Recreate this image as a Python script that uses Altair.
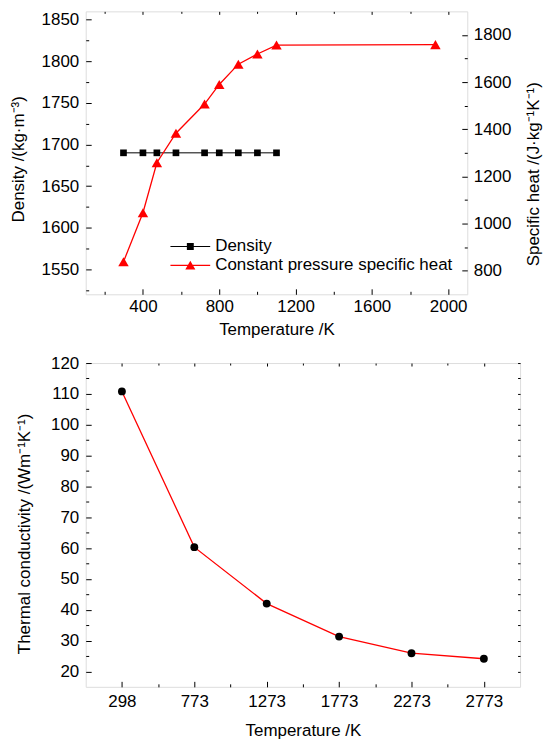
import json
import altair as alt
import pandas as pd

FONT = "Liberation Sans"

# ---------------- data ----------------
temp_density = [298, 400, 473, 573, 723, 800, 900, 1000, 1100]
density_values = [1690, 1690, 1690, 1690, 1690, 1690, 1690, 1690, 1690]
temp_cp = [298, 400, 473, 573, 723, 800, 900, 1000, 1100, 1933]
cp_values = [838, 1046, 1258, 1383, 1507, 1590, 1676, 1719, 1757, 1759]
series_names = ["Density", "Constant pressure specific heat"]

tc_temps = ["298", "773", "1273", "1773", "2273", "2773"]
tc_values = [110.8, 60.3, 42.0, 31.3, 25.9, 24.1]

# ---------------- tables ----------------
df_d = pd.DataFrame({"temp": temp_density, "density": density_values})
df_c = pd.DataFrame({"temp": temp_cp, "cp": cp_values})
df_leg = pd.DataFrame({"series": series_names})
df_tc = pd.DataFrame({"idx": list(range(len(tc_temps))), "k": tc_values})

W1, H1 = 383, 284
W2, H2 = 436, 325
FS = 17
MAJ, MIN = "-5.5", "-3"      # inward ticks (negative length)
EMAJ, EMIN = "-3", "-2"      # short ticks on mirrored edges


def tick_axis(orient, values, size):
    return alt.Axis(
        orient=orient, values=values, labels=False, domain=False,
        grid=False, ticks=True, tickColor="black", tickWidth=1,
        tickSize=alt.ExprRef(expr=size), title=None,
    )


def label_axis(orient, values, title, pad, tpad, **kw):
    return alt.Axis(
        orient=orient, values=values, ticks=False, domain=False, grid=False,
        labelFont=FONT, labelFontSize=FS, labelColor="black", labelPadding=pad,
        title=title, titleFont=FONT, titleFontSize=FS, titleFontWeight="normal",
        titleColor="black", titlePadding=tpad, **kw,
    )


# ---------------- top chart ----------------
x1 = alt.Scale(domain=[100, 2100], nice=False, zero=False)
yd = alt.Scale(domain=[1520, 1860], nice=False, zero=False)
yc = alt.Scale(domain=[700, 1900], nice=False, zero=False)

x1_major = [400, 800, 1200, 1600, 2000]
x1_minor = [200, 600, 1000, 1400, 1800]
yd_major = list(range(1550, 1851, 50))
yd_minor = list(range(1525, 1851, 50))
yc_major = list(range(800, 1801, 200))
yc_minor = list(range(900, 1801, 200))

density_line = alt.Chart(df_d).mark_line(color="black", strokeWidth=1).encode(
    x=alt.X("temp:Q", scale=x1, axis=label_axis("bottom", x1_major, "Temperature /K", 4, 7,
                                                 format="d")),
    y=alt.Y("density:Q", scale=yd, axis=label_axis("left", yd_major, "Density /(kg·m⁻³)", 7, 14,
                                                    format="d", titleY=148)),
)
cp_line = alt.Chart(df_c).mark_line(color="#ff0000", strokeWidth=1.3).encode(
    x=alt.X("temp:Q", scale=x1, axis=tick_axis("bottom", x1_major, MAJ)),
    y=alt.Y("cp:Q", scale=yc, axis=label_axis("right", yc_major, "Specific heat /(J·kg⁻¹K⁻¹)",
                                               6, 32, format="d", titleAngle=270, titleY=163)),
)
ghost_d = alt.Chart(df_d).mark_point(opacity=0).encode(
    x=alt.X("temp:Q", scale=x1, axis=tick_axis("bottom", x1_minor, MIN)),
    y=alt.Y("density:Q", scale=yd, axis=tick_axis("left", yd_major, MAJ)),
)
ghost_c = alt.Chart(df_c).mark_point(opacity=0).encode(
    x=alt.X("temp:Q", scale=x1, axis=tick_axis("top", x1_major, EMAJ)),
    y=alt.Y("cp:Q", scale=yc, axis=tick_axis("right", yc_major, MAJ)),
)
density_pts = alt.Chart(df_d).mark_point(shape="square", filled=True, size=45,
                                         color="black", opacity=1).encode(
    x=alt.X("temp:Q", scale=x1, axis=tick_axis("top", x1_minor, EMIN)),
    y=alt.Y("density:Q", scale=yd, axis=tick_axis("left", yd_minor, MIN)),
)
cp_pts = alt.Chart(df_c).mark_point(shape="triangle-up", filled=True, size=110,
                                    color="#ff0000", opacity=1).encode(
    x=alt.X("temp:Q", scale=x1, axis=None),
    y=alt.Y("cp:Q", scale=yc, axis=tick_axis("right", yc_minor, MIN)),
)

path_density = "M-1.9,-0.05H1.9V0.05H-1.9Z M-0.33,-0.33H0.33V0.33H-0.33Z"
path_cp = "M-1.9,-0.06H1.9V0.06H-1.9Z M0,-0.45L0.48,0.38H-0.48Z"

legend_def = alt.Legend(
    orient="none", legendX=94.5, legendY=225.5, title=None, symbolSize=441,
    labelFont=FONT, labelFontSize=FS, labelColor="black", labelOffset=14.5, labelLimit=0,
    rowPadding=0, padding=0, symbolStrokeWidth=0, symbolOpacity=1,
)
legend_layer = alt.Chart(df_leg).transform_filter("false").mark_point(
    filled=True, opacity=1).encode(
    color=alt.Color("series:N", scale=alt.Scale(domain=series_names, range=["black", "#ff0000"]),
                    legend=legend_def),
    shape=alt.Shape("series:N", scale=alt.Scale(domain=series_names, range=[path_density, path_cp]),
                    legend=legend_def),
)

top = alt.layer(density_line, cp_line, ghost_d, ghost_c, density_pts, cp_pts,
                legend_layer).resolve_scale(
    y="independent").resolve_axis(x="independent", y="independent").properties(
    width=W1, height=H1)

# ---------------- bottom chart ----------------
x2 = alt.Scale(domain=[-0.5, len(tc_temps) - 0.5], nice=False, zero=False)
y2 = alt.Scale(domain=[15, 120], nice=False, zero=False)
label_expr = json.dumps(tc_temps) + "[round(datum.value)]"
x2_major = list(range(len(tc_temps)))
x2_minor = [i + 0.5 for i in range(len(tc_temps) - 1)]
y2_major = list(range(20, 121, 10))
y2_minor = list(range(25, 116, 10))

tc_line = alt.Chart(df_tc).mark_line(color="#ff0000", strokeWidth=1.3).encode(
    x=alt.X("idx:Q", scale=x2, axis=label_axis("bottom", x2_major, "Temperature /K", 7, 13,
                                                labelExpr=label_expr)),
    y=alt.Y("k:Q", scale=y2, axis=label_axis("left", y2_major,
                                              "Thermal conductivity /(Wm⁻¹K⁻¹)", 7, 17, titleY=171)),
)
tc_g1 = alt.Chart(df_tc).mark_point(opacity=0).encode(
    x=alt.X("idx:Q", scale=x2, axis=tick_axis("bottom", x2_major, MAJ)),
    y=alt.Y("k:Q", scale=y2, axis=tick_axis("left", y2_major, MAJ)),
)
tc_g2 = alt.Chart(df_tc).mark_point(opacity=0).encode(
    x=alt.X("idx:Q", scale=x2, axis=tick_axis("bottom", x2_minor, MIN)),
    y=alt.Y("k:Q", scale=y2, axis=tick_axis("left", y2_minor, MIN)),
)
tc_g3 = alt.Chart(df_tc).mark_point(opacity=0).encode(
    x=alt.X("idx:Q", scale=x2, axis=tick_axis("top", x2_major, EMAJ)),
    y=alt.Y("k:Q", scale=y2, axis=tick_axis("right", y2_major, "-2.5")),
)
tc_pts = alt.Chart(df_tc).mark_point(shape="circle", filled=True, size=62,
                                     color="black", opacity=1).encode(
    x=alt.X("idx:Q", scale=x2, axis=tick_axis("top", x2_minor, EMIN)),
    y=alt.Y("k:Q", scale=y2, axis=tick_axis("right", y2_minor, "-2.5")),
)

bottom = alt.layer(tc_line, tc_g1, tc_g2, tc_g3, tc_pts).resolve_axis(
    x="independent", y="independent").properties(width=W2, height=H2)

chart = alt.vconcat(top, bottom, spacing=15).properties(
    padding={"left": 0, "top": 0, "right": 0, "bottom": 0}
).configure_view(stroke="black", strokeWidth=1.2).configure(background="white")

chart.save("out.html", embed_options={"renderer": "svg", "actions": False})
